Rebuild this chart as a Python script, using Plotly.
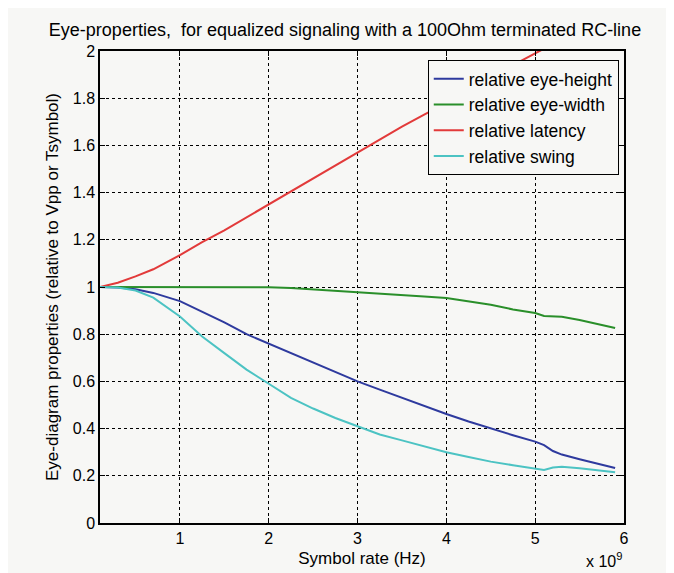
import plotly.graph_objects as go

# Symbol rate in units of 1e9 Hz
rate = [0.1, 0.3, 0.5, 0.7, 1.0, 1.25, 1.5, 1.75, 2.0, 2.25, 2.5, 2.75, 3.0, 3.25,
        3.5, 3.75, 4.0, 4.25, 4.5, 4.75, 5.0, 5.1, 5.2, 5.3, 5.5, 5.7, 5.9]

eye_height = [1.0, 0.998, 0.99, 0.975, 0.94, 0.895, 0.85, 0.80, 0.76, 0.72, 0.68, 0.64,
              0.60, 0.565, 0.53, 0.495, 0.462, 0.43, 0.40, 0.372, 0.345, 0.33, 0.305,
              0.29, 0.27, 0.25, 0.233]
eye_width = [1.0, 1.0, 1.0, 1.0, 1.0, 1.0, 1.0, 1.0, 0.999, 0.996, 0.99, 0.985, 0.98,
             0.975, 0.968, 0.96, 0.953, 0.94, 0.925, 0.905, 0.89, 0.877, 0.875, 0.874,
             0.86, 0.843, 0.826]
latency = [1.0, 1.018, 1.045, 1.075, 1.135, 1.19, 1.24, 1.295, 1.35, 1.405, 1.46, 1.515,
           1.57, 1.625, 1.68, 1.73, 1.78, 1.835, 1.89, 1.94, 1.99, 2.01, 2.03, 2.05,
           2.09, 2.13, 2.17]
swing = [1.0, 0.998, 0.985, 0.955, 0.875, 0.79, 0.72, 0.65, 0.59, 0.53, 0.485, 0.445,
         0.41, 0.375, 0.35, 0.325, 0.30, 0.28, 0.26, 0.245, 0.23, 0.225, 0.235, 0.238,
         0.232, 0.222, 0.215]

series_names = ["relative eye-height", "relative eye-width", "relative latency", "relative swing"]
series_vals = [eye_height, eye_width, latency, swing]
colors = ["#2e3a9e", "#2a8f2a", "#e23a3a", "#4cc3c3"]

x_ticks = [1, 2, 3, 4, 5, 6]
y_ticks = [0, 0.2, 0.4, 0.6, 0.8, 1, 1.2, 1.4, 1.6, 1.8, 2]

FONT = "Liberation Sans, Arial, sans-serif"
BG = "#f7f7f5"

fig = go.Figure()
for name, vals, col in zip(series_names, series_vals, colors):
    fig.add_trace(go.Scatter(x=rate, y=vals, mode="lines", name=name,
                             line=dict(color=col, width=2)))

axis_common = dict(showline=True, linecolor="black", linewidth=1.5, mirror="ticks",
                   ticks="inside", ticklen=5, tickcolor="black",
                   showgrid=True, gridcolor="black", griddash="dot", gridwidth=1,
                   zeroline=False, tickfont=dict(size=16, color="black"))

fig.update_xaxes(range=[0.1, 6], tickvals=x_ticks, ticktext=[str(t) for t in x_ticks],
                 title=dict(text="Symbol rate (Hz)", font=dict(size=17, color="black"), standoff=6),
                 **axis_common)
fig.update_yaxes(range=[0, 2], tickvals=y_ticks, ticktext=[f"{t:g}" for t in y_ticks],
                 title=dict(text="Eye-diagram properties (relative to Vpp or Tsymbol)",
                            font=dict(size=17, color="black"), standoff=10),
                 **axis_common)

fig.update_layout(
    width=674, height=573,
    margin=dict(l=92, r=58, t=43, b=58),
    paper_bgcolor=BG, plot_bgcolor=BG,
    font=dict(family=FONT, size=16, color="black"),
    title=dict(text="Eye-properties,  for equalized signaling with a 100Ohm terminated RC-line",
               x=0.5, xanchor="center", y=0.962, yanchor="middle",
               font=dict(size=18, color="black")),
    legend=dict(x=0.99, y=0.981, xanchor="right", yanchor="top",
                bgcolor=BG, bordercolor="black", borderwidth=1,
                font=dict(size=17.5, color="black"), itemwidth=30),
    annotations=[dict(text="x 10<sup>9</sup>", x=1.0, y=-0.078, xref="paper", yref="paper",
                      xanchor="right", yanchor="middle", showarrow=False,
                      font=dict(size=16, color="black"))],
)

fig.write_html("out.html")
